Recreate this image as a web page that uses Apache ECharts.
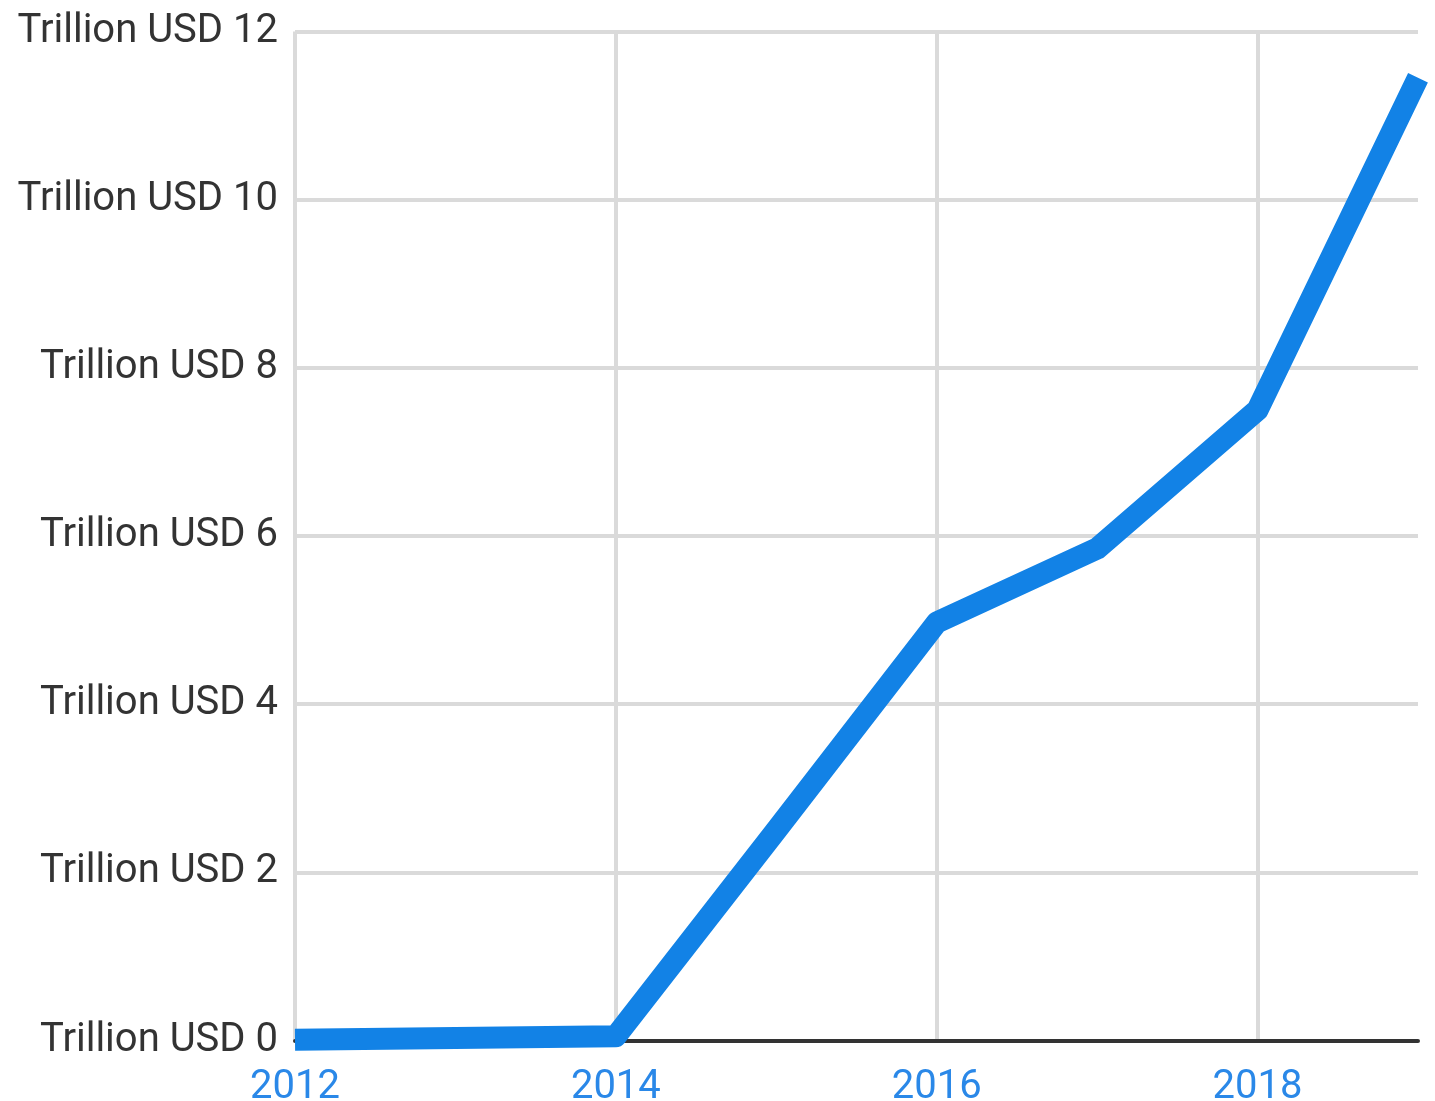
<!DOCTYPE html>
<html>
<head>
<meta charset="utf-8">
<script src="https://cdn.jsdelivr.net/npm/echarts@6/dist/echarts.min.js"></script>
<style>
html,body{margin:0;padding:0;background:#fff;}
#chart{width:1435px;height:1101px;}
</style>
</head>
<body>
<div id="chart"></div>
<script>
const years = [2012, 2013, 2014, 2015, 2016, 2017, 2018, 2019];
const values = [0.01, 0.03, 0.05, 2.5, 4.97, 5.85, 7.5, 11.45];
const xTickValues = [2012, 2014, 2016, 2018];
const yTickPrefix = 'Trillion USD ';

const chart = echarts.init(document.getElementById('chart'));
chart.setOption({
  animation: false,
  backgroundColor: '#ffffff',
  grid: { left: 295, right: 17, top: 31.5, bottom: 60.5, containLabel: false, outerBoundsMode: 'none' },
  xAxis: {
    type: 'value',
    min: 2012,
    max: 2019,
    interval: 2,
    axisLine: { show: true, onZero: true, lineStyle: { color: '#333333', width: 4 } },
    axisTick: { show: false, customValues: xTickValues },
    axisLabel: {
      customValues: xTickValues,
      fontFamily: 'Roboto',
      fontSize: 40,
      color: '#2a88e8',
      margin: 27,
      formatter: v => String(v)
    },
    splitLine: { show: true, lineStyle: { color: '#dadada', width: 4 } }
  },
  yAxis: {
    type: 'value',
    min: 0,
    max: 12,
    interval: 2,
    axisLine: { show: false },
    axisTick: { show: false },
    axisLabel: {
      fontFamily: 'Roboto',
      fontSize: 40,
      color: '#333333',
      margin: 17,
      formatter: v => yTickPrefix + v
    },
    splitLine: { show: true, lineStyle: { color: '#dadada', width: 4 } }
  },
  series: [{
    type: 'line',
    data: years.map((y, i) => [y, values[i]]),
    showSymbol: false,
    symbol: 'none',
    smooth: false,
    lineStyle: { color: '#1282e6', width: 22, cap: 'butt', join: 'round' },
    itemStyle: { color: '#1282e6' },
    z: 3
  }]
});
</script>
</body>
</html>
